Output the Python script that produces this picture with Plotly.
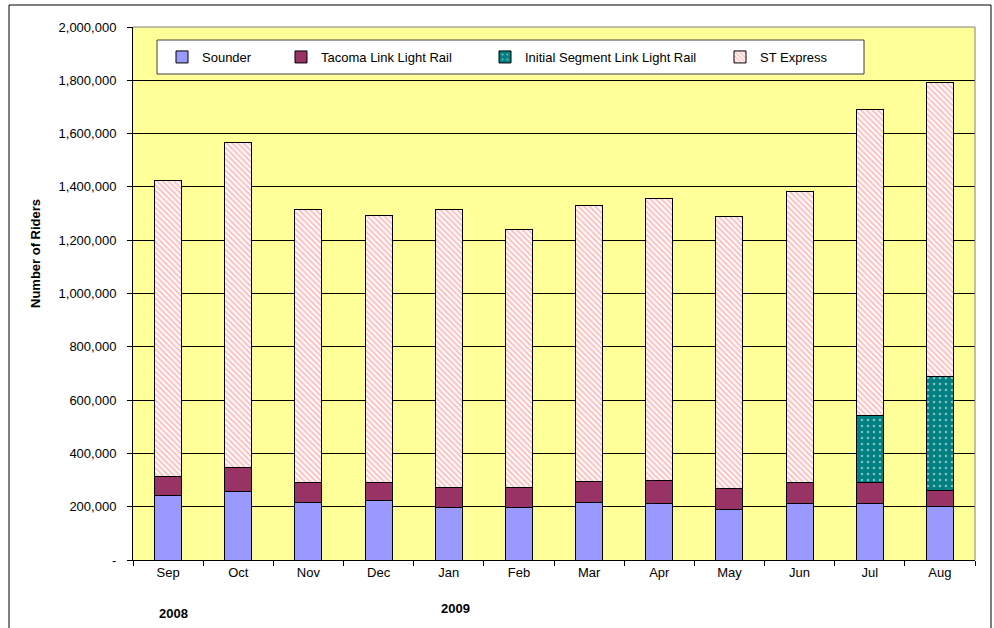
import plotly.graph_objects as go

months = ["Sep", "Oct", "Nov", "Dec", "Jan", "Feb", "Mar", "Apr", "May", "Jun", "Jul", "Aug"]
sounder = [243000, 258000, 216000, 222000, 196000, 196000, 216000, 212000, 191000, 212000, 212000, 200000]
tacoma = [71000, 89000, 74000, 68000, 77000, 77000, 80000, 85000, 77000, 78000, 78000, 60000]
initial_segment = [None, None, None, None, None, None, None, None, None, None, 253000, 430000]
st_express = [1111000, 1221000, 1024000, 1003000, 1041000, 969000, 1033000, 1059000, 1020000, 1092000, 1147000, 1103000]

y_tickvals = [0, 200000, 400000, 600000, 800000, 1000000, 1200000, 1400000, 1600000, 1800000, 2000000]
y_ticktext = ["-", "200,000", "400,000", "600,000", "800,000", "1,000,000", "1,200,000",
              "1,400,000", "1,600,000", "1,800,000", "2,000,000"]
year_labels = [("Sep", "2008"), ("Jan", "2009")]

FONT = "Liberation Sans, Arial, sans-serif"
FS = 13
outline = dict(color="black", width=1)

fig = go.Figure()
fig.add_trace(go.Bar(x=months, y=sounder, name="Sounder", legend="legend", showlegend=True,
                     marker=dict(color="#9999FF", line=outline)))
fig.add_trace(go.Bar(x=months, y=tacoma, name="Tacoma Link Light Rail", legend="legend2", showlegend=True,
                     marker=dict(color="#993366", line=outline)))
fig.add_trace(go.Bar(x=months, y=initial_segment, name="Initial Segment Link Light Rail", legend="legend3",
                     showlegend=True,
                     marker=dict(color="#008080", line=outline,
                                 pattern=dict(shape=".", fgcolor="white", bgcolor="#008080",
                                              size=6, solidity=0.15))))
fig.add_trace(go.Bar(x=months, y=st_express, name="ST Express", legend="legend4", showlegend=True,
                     marker=dict(color="white", line=outline,
                                 pattern=dict(shape="\\", fgcolor="#FF8080", bgcolor="white",
                                              size=4, solidity=0.5))))

# plot area in pixels: left 133, right 975, top 27, bottom 560
L, R, T, B = 133, 975, 27, 560
W, H = R - L, B - T
def px(xp): return (xp - L) / W
def py(yp): return (B - yp) / H

leg_common = dict(orientation="h", yanchor="middle", y=py(57), xanchor="left",
                  bgcolor="rgba(0,0,0,0)", borderwidth=0,
                  font=dict(family=FONT, size=FS, color="black"), itemwidth=30)

fig.update_layout(
    width=994, height=628,
    margin=dict(l=L, r=994 - R, t=T, b=628 - B),
    paper_bgcolor="white",
    plot_bgcolor="#FFFF99",
    barmode="stack",
    bargap=0.615,
    showlegend=True,
    font=dict(family=FONT, size=FS, color="black"),
    legend=dict(x=px(162), **leg_common),
    legend2=dict(x=px(281), **leg_common),
    legend3=dict(x=px(485), **leg_common),
    legend4=dict(x=px(720), **leg_common),
    xaxis=dict(type="category", showline=True, linecolor="black", linewidth=1,
               ticks="outside", ticklen=5, tickcolor="black", tickson="boundaries",
               showgrid=False, tickfont=dict(family=FONT, size=FS)),
    yaxis=dict(range=[0, 2000000], tickvals=y_tickvals, ticktext=y_ticktext,
               showline=True, linecolor="black", linewidth=1,
               ticks="outside", ticklen=5, tickcolor="black", ticklabelstandoff=8,
               showgrid=True, gridcolor="black", gridwidth=1, zeroline=False,
               tickfont=dict(family=FONT, size=FS)),
    shapes=[
        # plot area top and right border (gray)
        dict(type="line", xref="paper", yref="paper", x0=0, x1=1, y0=1, y1=1,
             line=dict(color="#808080", width=1), layer="above"),
        dict(type="line", xref="paper", yref="paper", x0=1, x1=1, y0=0, y1=1,
             line=dict(color="#808080", width=1), layer="above"),
        # legend box
        dict(type="rect", xref="paper", yref="paper", x0=px(157), x1=px(864), y0=py(74), y1=py(40),
             fillcolor="white", line=dict(color="#404040", width=1), layer="between"),
        # outer chart border
        dict(type="rect", xref="paper", yref="paper", x0=px(9), x1=px(991), y0=py(650), y1=py(5),
             fillcolor="rgba(0,0,0,0)", line=dict(color="black", width=1), layer="above"),
    ],
    annotations=[
        dict(text="<b>Number of Riders</b>", textangle=-90, xref="paper", yref="paper",
             x=px(35), y=py(254), showarrow=False, xanchor="center", yanchor="middle",
             font=dict(family=FONT, size=FS)),
    ] + [
        dict(text=f"<b>{yr}</b>", xref="x", yref="paper", x=m, y=py(613 if yr == "2008" else 608),
             showarrow=False, xanchor="center", yanchor="middle", xshift=(5 if yr == "2008" else 7),
             font=dict(family=FONT, size=FS))
        for m, yr in year_labels
    ],
)

fig.write_html("out.html", config={"displayModeBar": False},
               post_script="document.body.style.margin='0';")
